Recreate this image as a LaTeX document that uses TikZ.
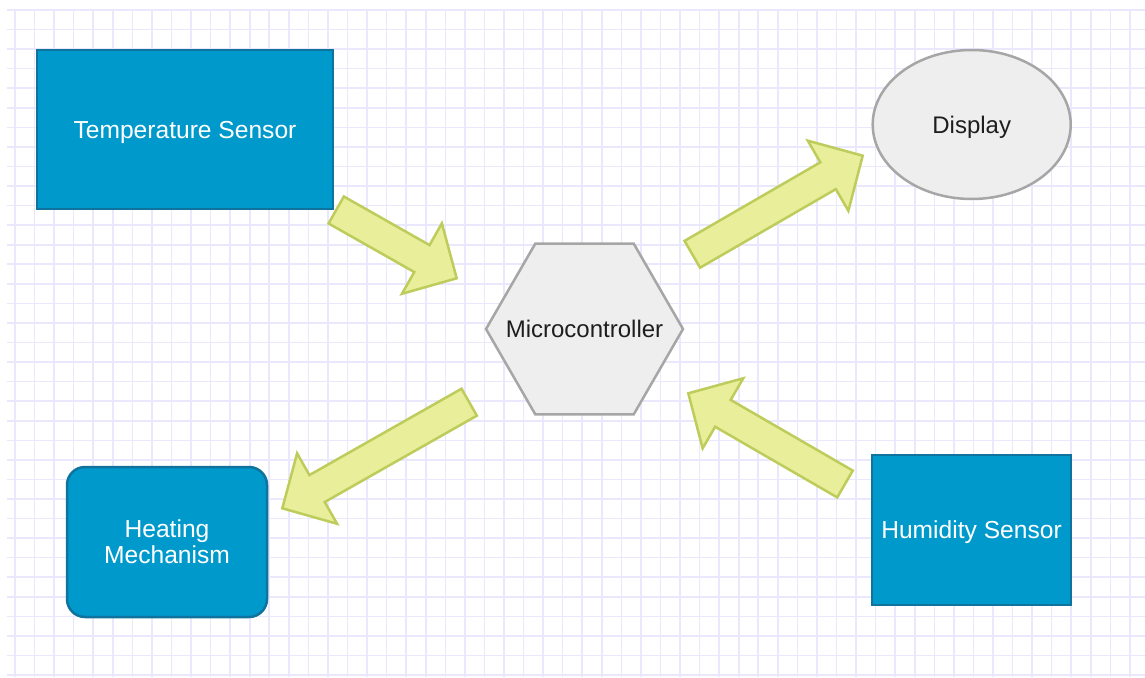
\documentclass[tikz,border=0pt]{standalone}
\usepackage{fontspec}
\setmainfont{Liberation Sans}
\usetikzlibrary{calc,shapes.geometric}

\definecolor{gridline}{RGB}{234,232,252}
\definecolor{boxblue}{RGB}{0,153,204}
\definecolor{boxedge}{RGB}{16,115,158}
\definecolor{softgray}{RGB}{238,238,238}
\definecolor{grayedge}{RGB}{166,166,166}
\definecolor{labeldark}{RGB}{30,30,30}
\definecolor{arrowfill}{RGB}{232,238,153}
\definecolor{arrowedge}{RGB}{190,204,92}

\tikzset{
  label font/.style={font=\fontsize{24pt}{26pt}\selectfont},
  oneline/.style={text height=17pt, text depth=0pt},
  bluebox/.style={draw=boxedge, fill=boxblue, line width=2.5pt, text=white,
    font=\fontsize{24.6pt}{26pt}\selectfont, inner sep=0pt, align=center},
  graybox/.style={draw=grayedge, fill=softgray, line width=2.5pt, text=labeldark,
    label font, inner sep=0pt},
  flowarrow/.style={draw=arrowedge, fill=arrowfill, line width=2.5pt, line join=miter},
}

% Block arrow from a tail point to a tip point (shaft 31, head 81 wide, 40 long)
\newcommand\flowarrow[2]{%
  \draw[flowarrow]
    ($(#1)!15.5pt!90:(#2)$)
    -- ($($(#2)!40pt!(#1)$)!15.5pt!-90:(#1)$)
    -- ($($(#2)!40pt!(#1)$)!40.5pt!-90:(#1)$)
    -- (#2)
    -- ($($(#2)!40pt!(#1)$)!40.5pt!90:(#1)$)
    -- ($($(#2)!40pt!(#1)$)!15.5pt!90:(#1)$)
    -- ($(#1)!15.5pt!-90:(#2)$)
    -- cycle;}

\begin{document}
\begin{tikzpicture}[x=1pt, y=-1pt]
  \useasboundingbox (0,0) rectangle (1145,677);
  \fill[white] (0,0) rectangle (1145,677);

  % background grid
  \foreach \k in {0,...,57}
    \draw[gridline, line width=1.6pt] ({15+19.56*\k},10) -- ({15+19.56*\k},677);
  \foreach \k in {0,...,34}
    \draw[gridline, line width=1.6pt] (7,{10+19.56*\k}) -- (1145,{10+19.56*\k});

  % components
  \node[bluebox, oneline, minimum width=296pt, minimum height=159pt] (temp) at (185,129.5)
    {Temperature Sensor};
  \node[graybox, oneline, ellipse, minimum width=198pt, minimum height=149pt] (disp) at (971.7,124.5)
    {Display};
  \node[graybox, regular polygon, regular polygon sides=6, minimum size=197pt,
    label={[label font, oneline, inner sep=0pt, text=labeldark]center:Microcontroller}]
    (mcu) at (584.5,329) {};
  \node[bluebox, rounded corners=18pt, minimum width=200pt, minimum height=150pt] (heat) at (167,542)
    {Heating\\Mechanism};
  \node[bluebox, oneline, minimum width=199pt, minimum height=150pt] (humid) at (971.5,530)
    {Humidity Sensor};

  % connector ends
  \coordinate (tempout) at (336.2,210);
  \coordinate (mcuin1)  at (456.7,278.3);
  \coordinate (mcuout1) at (692.3,254.3);
  \coordinate (dispin)  at (862.7,155.7);
  \coordinate (humidout) at (845,484);
  \coordinate (mcuin2)  at (688.3,393.3);
  \coordinate (mcuout2) at (469.2,402.2);
  \coordinate (heatin)  at (282.3,508.3);

  % data flow
  \flowarrow{tempout}{mcuin1}
  \flowarrow{mcuout1}{dispin}
  \flowarrow{humidout}{mcuin2}
  \flowarrow{mcuout2}{heatin}
\end{tikzpicture}
\end{document}
